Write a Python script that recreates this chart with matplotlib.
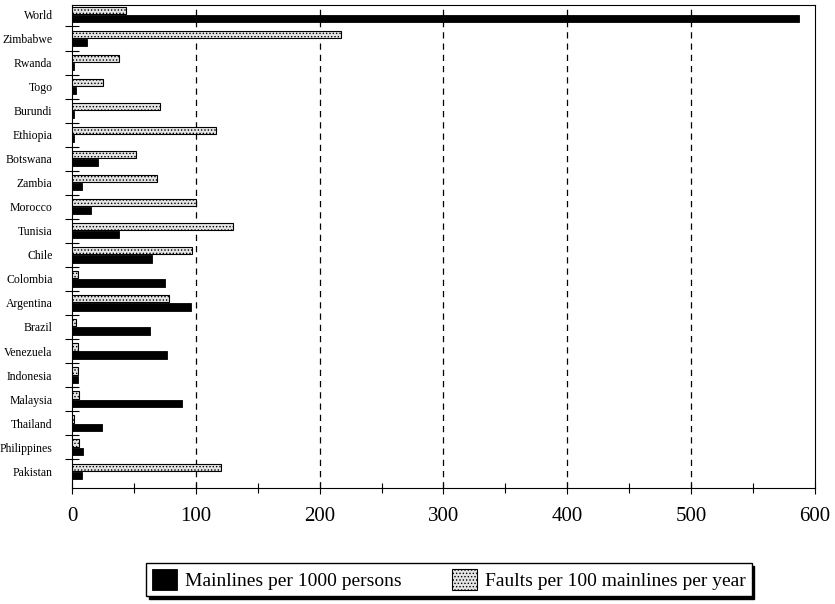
import numpy as np
import matplotlib
matplotlib.use('Agg')
import matplotlib.pyplot as plt

plt.rcParams['font.family'] = 'Liberation Serif'
plt.rcParams['hatch.linewidth'] = 0.6

countries = ['World', 'Zimbabwe', 'Rwanda', 'Togo', 'Burundi', 'Ethiopia',
             'Botswana', 'Zambia', 'Morocco', 'Tunisia', 'Chile', 'Colombia',
             'Argentina', 'Brazil', 'Venezuela', 'Indonesia', 'Malaysia',
             'Thailand', 'Philippines', 'Pakistan']
mainlines = [587, 12, 1.5, 3, 1.5, 2, 21, 8, 15, 38, 65, 75, 96, 63, 77, 5, 89, 24, 9, 8]
faults = [44, 217, 38, 25, 71, 116, 52, 69, 100, 130, 97, 5, 78, 3, 5, 5, 6, 2, 6, 120]

fig = plt.figure(figsize=(8.35, 6.04), dpi=100)
ax = fig.add_axes([0.0862, 0.192, 0.8898, 0.800])

y = np.arange(len(countries))
h = 0.3
ax.barh(y + 0.17, mainlines, height=h, color='black', edgecolor='black',
        linewidth=0.6, zorder=3, label='Mainlines per 1000 persons')
ax.barh(y - 0.17, faults, height=h, color='#e4e4e4', edgecolor='black',
        hatch='.....', linewidth=0.8, zorder=3,
        label='Faults per 100 mainlines per year')

# dashed reference lines every 100 units
for gx in range(100, 600, 100):
    ax.axvline(gx, color='black', lw=0.9, ls=(0, (5, 4)), zorder=1)

ax.set_xlim(0, 600)
ax.set_ylim(19.7, -0.4)
ax.set_xticks(range(0, 601, 100))
ax.set_xticks(range(50, 600, 100), minor=True)
ax.tick_params(axis='x', which='both', direction='inout', length=8, width=0.8,
               labelsize=15, pad=10)
ax.tick_params(axis='x', which='minor', length=7)

ax.set_yticks(y)
ax.set_yticklabels(countries)
ax.set_yticks(np.arange(0.5, len(countries) - 1, 1.0), minor=True)
ax.tick_params(axis='y', which='major', length=0, labelsize=8.5, pad=14)
ax.tick_params(axis='y', which='minor', direction='inout', length=10, width=0.8)

for s in ax.spines.values():
    s.set_linewidth(0.8)

ax.legend(loc='center', bbox_to_anchor=(0.507, -0.19), ncol=2,
          fontsize=14, frameon=True, fancybox=False, edgecolor='black',
          shadow={'color': 'black', 'alpha': 1.0},
          handlelength=1.3, handleheight=1.3, columnspacing=2.6,
          borderpad=0.3, handletextpad=0.4, framealpha=1)

fig.savefig('out.png', dpi=100)
